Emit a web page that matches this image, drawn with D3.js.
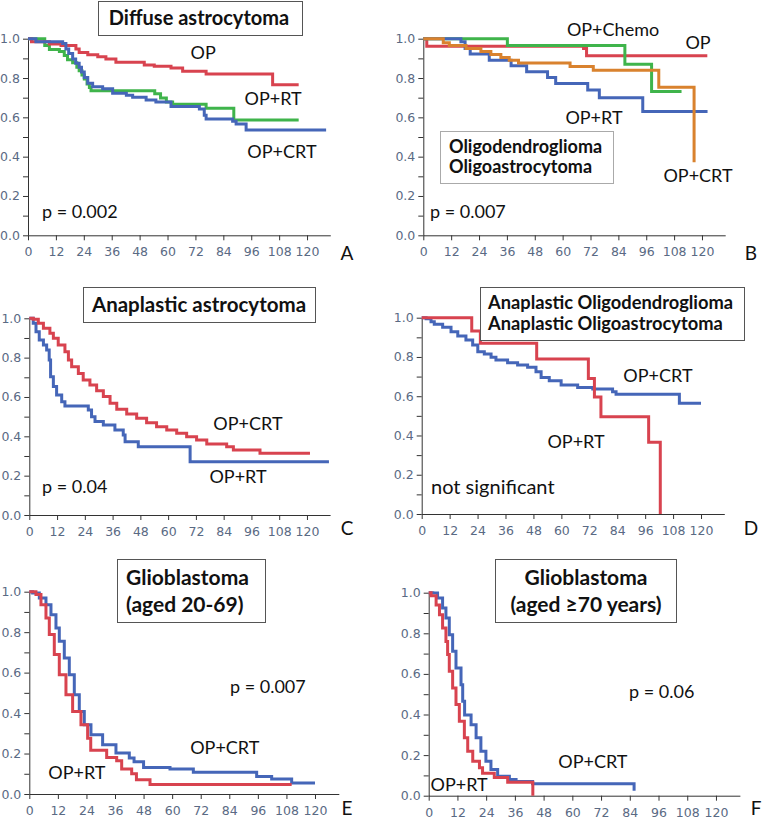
<!DOCTYPE html>
<html>
<head>
<meta charset="utf-8">
<script src="https://cdn.jsdelivr.net/npm/d3@7"></script>
<style>
  body { margin: 0; background: #fff; }
  svg { display: block; }
  .tick text { font-family: "DejaVu Sans", Verdana, sans-serif; font-size: 12.5px; fill: #5a6a84; }
  .axis path, .axis line { stroke: #333; stroke-width: 1; }
  .lbl { font-family: Lato, "Open Sans", sans-serif; font-size: 18px; fill: #111; }
  .ttl { font-family: Lato, "Open Sans", sans-serif; font-weight: bold; fill: #111; }
</style>
</head>
<body>
<svg id="chart" width="762" height="819"></svg>
<script>
// survival steps: [month, survival from that month on]
var xTicks = [0, 12, 24, 36, 48, 60, 72, 84, 96, 108, 120];
var yTicks = [0, 0.2, 0.4, 0.6, 0.8, 1.0];
var yMinor = [0.1, 0.3, 0.5, 0.7, 0.9];

// A - diffuse astrocytoma
var aOp = [[0,1],[1.5,0.985],[9.2,0.973],[14.2,0.965],[20.6,0.948],[22,0.93],[25.7,0.918],[30,0.908],[33.5,0.897],[37.8,0.88],[50,0.866],[54.3,0.86],[61.5,0.851],[66.5,0.834],[76.6,0.82],[105.2,0.766],[116.4,0.766]];
var aOpRt = [[0,1],[7.2,0.965],[9.2,0.945],[13.5,0.935],[15.6,0.914],[17,0.893],[19.2,0.878],[21,0.855],[22,0.837],[23.2,0.815],[24.2,0.795],[25.4,0.77],[26.4,0.752],[27.1,0.735],[54.5,0.72],[57,0.698],[59.5,0.678],[62.2,0.666],[76.6,0.646],[88.5,0.586],[116.4,0.586]];
var aOpCrt = [[0,1],[3.4,0.985],[14.9,0.975],[16.3,0.948],[17.5,0.925],[19.2,0.897],[20.5,0.875],[22,0.855],[23,0.83],[24.2,0.803],[25.7,0.773],[27.8,0.756],[32.1,0.745],[36.4,0.722],[42.3,0.712],[45,0.702],[50.8,0.688],[55,0.678],[61.5,0.655],[73.7,0.643],[75.8,0.61],[76.6,0.592],[88,0.58],[89.5,0.566],[93.8,0.536],[128.2,0.536]];

// B - oligodendroglioma / oligoastrocytoma
var bOp = [[0,1],[1.5,0.962],[69,0.95],[70.3,0.913],[122.3,0.913]];
var bOpChemo = [[0,1],[36.2,0.965],[86.8,0.87],[98.3,0.732],[111.2,0.732]];
var bOpRt = [[0,1],[16.2,0.985],[18,0.95],[20.2,0.922],[28.4,0.89],[37.8,0.863],[44.5,0.832],[53.5,0.803],[57,0.772],[70.8,0.739],[75.8,0.7],[94.5,0.63],[122.4,0.63]];
var bOpCrt = [[0,1],[8.6,0.98],[11.2,0.965],[18.4,0.95],[24.8,0.935],[29.1,0.92],[33.4,0.905],[37,0.89],[41,0.877],[63.2,0.858],[73.2,0.84],[101.4,0.753],[116.6,0.753],[116.6,0.372]];

// C - anaplastic astrocytoma
var cOpCrt = [[0,1],[1.7,0.995],[3.9,0.975],[6.1,0.949],[8.9,0.924],[10.4,0.898],[12.5,0.864],[15.4,0.83],[16.9,0.788],[18.3,0.754],[21.2,0.72],[23.3,0.686],[26.2,0.661],[29.1,0.632],[32,0.602],[34.9,0.568],[37.8,0.537],[42.1,0.514],[46.4,0.492],[50.7,0.469],[55,0.449],[59.4,0.432],[63.7,0.415],[68,0.398],[72.3,0.381],[76.7,0.361],[85.3,0.347],[88.2,0.33],[99.7,0.314],[121.3,0.314]];
var cOpRt = [[0,1],[1.7,0.975],[2.9,0.932],[4.3,0.89],[6.1,0.864],[7.5,0.839],[8.6,0.788],[9.2,0.703],[10.4,0.653],[11.8,0.61],[14,0.576],[15.4,0.554],[25.5,0.534],[26.9,0.5],[28.4,0.475],[32,0.458],[37,0.432],[40.6,0.407],[41.4,0.373],[47.1,0.347],[69.5,0.271],[129.5,0.271]];

// D - anaplastic oligodendroglioma / oligoastrocytoma
var dOpRt = [[0,1],[21.5,0.932],[25.2,0.87],[49.4,0.79],[71.6,0.69],[74.2,0.596],[77,0.496],[97.5,0.366],[102.5,0]];
var dOpCrt = [[0,1],[1.9,0.995],[4,0.98],[5.4,0.966],[9,0.951],[12.6,0.929],[15.5,0.907],[19,0.886],[21.9,0.861],[24.1,0.827],[26.9,0.815],[29.8,0.798],[31.9,0.784],[36.9,0.771],[41.2,0.759],[45.5,0.747],[49.1,0.725],[51.3,0.696],[54.8,0.679],[59.9,0.657],[67,0.645],[73.5,0.637],[82,0.623],[83.5,0.61],[110.7,0.564],[120,0.564]];

// E - glioblastoma aged 20-69
var eOpCrt = [[0,1],[1.4,0.994],[4.2,0.969],[7,0.936],[9.1,0.886],[11.2,0.821],[12.6,0.755],[14.7,0.672],[16.8,0.59],[18.9,0.49],[21,0.408],[23.1,0.342],[25.9,0.293],[30.8,0.244],[36.4,0.203],[42,0.178],[44,0.16],[48,0.131],[59.1,0.123],[68.9,0.107],[95.5,0.087],[101.8,0.074],[110.2,0.054],[120,0.054]];
var eOpRt = [[0,1],[2.8,0.986],[4.9,0.936],[7,0.87],[8.4,0.788],[10.5,0.689],[12.6,0.59],[15.4,0.49],[18.2,0.408],[21.7,0.342],[24.5,0.276],[25.8,0.216],[32.5,0.18],[36.7,0.164],[38.8,0.123],[43,0.1],[45,0.07],[50.7,0.047],[110.2,0.047]];

// F - glioblastoma aged >=70
var fOpCrt = [[0,1],[1.7,0.998],[3.7,0.974],[5.8,0.925],[7.2,0.875],[8.6,0.793],[10,0.711],[11.4,0.629],[13.5,0.547],[14.2,0.465],[15,0.397],[17.7,0.35],[19.8,0.285],[21.8,0.219],[23.9,0.17],[26,0.129],[28.8,0.096],[33.7,0.08],[36.5,0.07],[43.4,0.059],[85.8,0.059],[85.8,0.025]];
var fOpRt = [[0,1],[1,0.985],[3.1,0.94],[4.5,0.891],[5.8,0.826],[7.2,0.76],[7.9,0.695],[8.6,0.613],[10,0.531],[11.4,0.449],[12.8,0.367],[14.9,0.285],[16.3,0.219],[18.4,0.17],[21.2,0.138],[22.5,0.11],[27.4,0.09],[33,0.066],[43.5,0.066],[43.5,0]];

var RED = "#d8434f", GREEN = "#3fb44b", BLUE = "#4566b8", ORANGE = "#d9822e";

var panels = [
  { box: [28, 330.3, 38.7, 235.3], letter: "A", lp: [347, 253],
    curves: [[aOpRt, GREEN], [aOp, RED], [aOpCrt, BLUE]],
    labels: [["OP", 75.3, 0.927, "middle"], ["OP+RT", 105.4, 0.693, "middle"], ["OP+CRT", 109.2, 0.424, "middle"], ["p = 0.002", 6, 0.118, "start"]],
    title: { rect: [98, 1, 204, 34], lines: ["Diffuse astrocytoma"], anchor: "middle", x: 199, y: [18], size: 20, border: "#555" } },
  { box: [423.3, 725.2, 38.7, 235.3], letter: "B", lp: [751, 253],
    curves: [[bOp, RED], [bOpChemo, GREEN], [bOpRt, BLUE], [bOpCrt, ORANGE]],
    labels: [["OP+Chemo", 81.7, 1.044, "middle"], ["OP", 118.3, 0.978, "middle"], ["OP+RT", 73.5, 0.6, "middle"], ["OP+CRT", 118.3, 0.302, "middle"], ["p = 0.007", 2.9, 0.118, "start"]],
    title: { rect: [440, 131, 173, 52], lines: ["Oligodendroglioma", "Oligoastrocytoma"], anchor: "start", x: 449, y: [147, 167], size: 18, border: "#aaa" } },
  { box: [29.3, 330.1, 318.3, 515], letter: "C", lp: [347, 528],
    curves: [[cOpRt, BLUE], [cOpCrt, RED]],
    labels: [["OP+CRT", 94.5, 0.463, "middle"], ["OP+RT", 90.2, 0.193, "middle"], ["p = 0.04", 5.5, 0.142, "start"]],
    title: { rect: [83, 287, 232, 35], lines: ["Anaplastic astrocytoma"], anchor: "middle", x: 199, y: [305], size: 20.5, border: "#555" } },
  { box: [421.7, 724.3, 317.7, 514], letter: "D", lp: [751, 528],
    curves: [[dOpCrt, BLUE], [dOpRt, RED]],
    labels: [["OP+CRT", 101.5, 0.703, "middle"], ["OP+RT", 66.3, 0.367, "middle"], ["not significant", 4, 0.138, "start", 20]],
    title: { rect: [480, 287, 264, 53], lines: ["Anaplastic Oligodendroglioma", "Anaplastic Oligoastrocytoma"], anchor: "start", x: 488, y: [303, 324], size: 18.3, border: "#555" } },
  { box: [29.3, 338.8, 591.7, 794], letter: "E", lp: [347, 808],
    curves: [[eOpCrt, BLUE], [eOpRt, RED]],
    labels: [["p = 0.007", 84.3, 0.529, "start"], ["OP+CRT", 82.1, 0.227, "middle"], ["OP+RT", 20, 0.104, "middle"]],
    title: { rect: [117, 559, 148, 63], lines: ["Glioblastoma", "(aged 20-69)"], anchor: "start", x: 126, y: [578, 605], size: 21, border: "#555" } },
  { box: [428.7, 739.9, 592.7, 795.7], letter: "F", lp: [756, 808],
    curves: [[fOpCrt, BLUE], [fOpRt, RED]],
    labels: [["p = 0.06", 83.7, 0.511, "start"], ["OP+CRT", 68.6, 0.166, "middle"], ["OP+RT", 12.7, 0.053, "middle"]],
    title: { rect: [495, 559, 181, 63], lines: ["Glioblastoma", "(aged \u226570 years)"], anchor: "middle", x: 586, y: [578, 605], size: 21, border: "#555" } }
];

var svg = d3.select("#chart");
svg.append("rect").attr("width", 762).attr("height", 819).attr("fill", "#fff");

panels.forEach(function(p) {
  var x = d3.scaleLinear().domain([0, 130]).range([p.box[0], p.box[1]]);
  var y = d3.scaleLinear().domain([0, 1]).range([p.box[3], p.box[2]]);
  var g = svg.append("g");

  g.append("g").attr("class", "axis")
    .attr("transform", "translate(0," + p.box[3] + ")")
    .call(d3.axisBottom(x).tickValues(xTicks).tickSize(5).tickSizeOuter(0).tickPadding(7));

  g.append("g").attr("class", "axis")
    .attr("transform", "translate(" + p.box[0] + ",0)")
    .call(d3.axisLeft(y).tickValues(yTicks).tickFormat(d3.format(".1f")).tickSize(5).tickSizeOuter(0).tickPadding(3));

  g.append("g").attr("class", "axis")
    .attr("transform", "translate(" + p.box[0] + ",0)")
    .call(d3.axisLeft(y).tickValues(yMinor).tickFormat("").tickSize(5).tickSizeOuter(0))
    .select(".domain").remove();

  var line = d3.line()
    .x(function(d) { return x(d[0]); })
    .y(function(d) { return y(d[1]); })
    .curve(d3.curveStepAfter);

  p.curves.forEach(function(c) {
    g.append("path")
      .datum(c[0])
      .attr("d", line)
      .attr("fill", "none")
      .attr("stroke", c[1])
      .attr("stroke-width", 3);
  });

  p.labels.forEach(function(l) {
    var t = g.append("text").attr("class", "lbl")
      .attr("x", x(l[1])).attr("y", y(l[2]))
      .attr("dy", "0.35em")
      .attr("text-anchor", l[3])
      .text(l[0]);
    if (l[4]) t.style("font-size", l[4] + "px");
  });

  var t = p.title;
  g.append("rect")
    .attr("x", t.rect[0] + 0.5).attr("y", t.rect[1] + 0.5)
    .attr("width", t.rect[2]).attr("height", t.rect[3])
    .attr("fill", "#fff").attr("stroke", t.border).attr("stroke-width", 1);
  t.lines.forEach(function(s, i) {
    g.append("text").attr("class", "ttl")
      .attr("x", t.x).attr("y", t.y[i])
      .attr("dy", "0.35em")
      .attr("text-anchor", t.anchor)
      .style("font-size", t.size + "px")
      .text(s);
  });

  g.append("text").attr("class", "lbl")
    .attr("x", p.lp[0]).attr("y", p.lp[1])
    .attr("dy", "0.35em")
    .attr("text-anchor", "middle")
    .style("font-size", "19px")
    .text(p.letter);
});
</script>
</body>
</html>
